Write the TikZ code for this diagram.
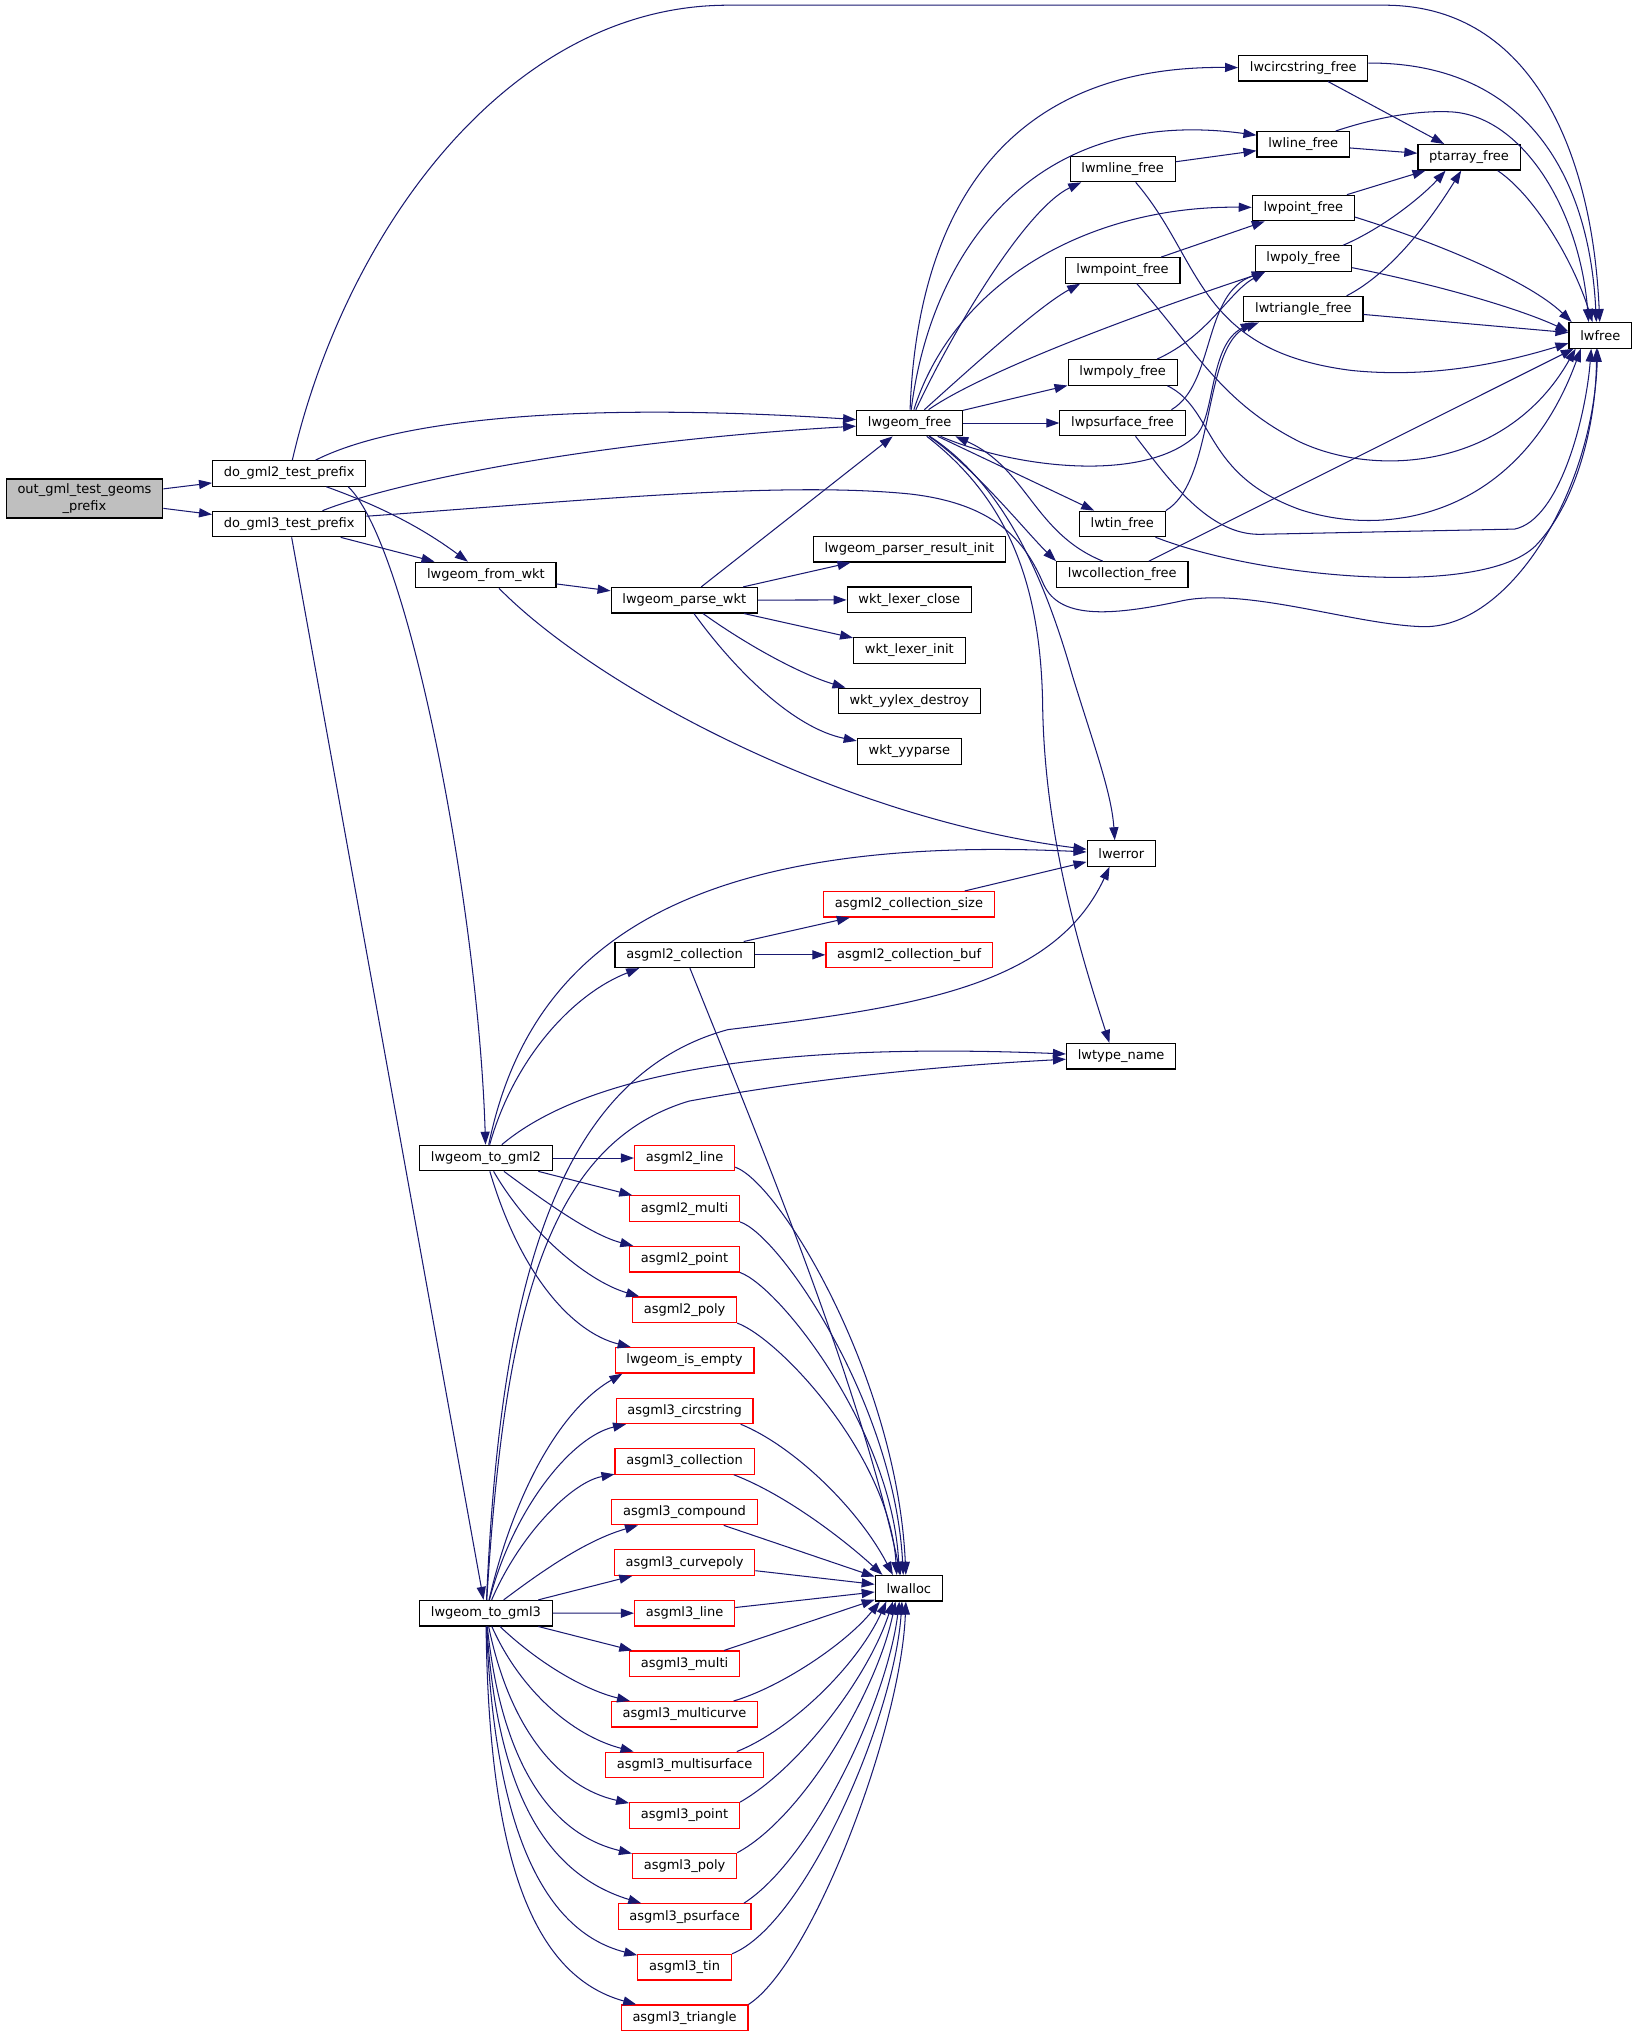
\documentclass[tikz,border=0pt]{standalone}
\usepackage{fontspec}
\setmainfont{DejaVu Sans}
\usetikzlibrary{arrows.meta,positioning}
\definecolor{edgeblue}{HTML}{191970}
\definecolor{nodegray}{HTML}{BFBFBF}

\begin{document}
\begin{tikzpicture}[x=1pt,y=-1pt,>={Triangle[length=10pt,width=7pt]},node distance=38.9pt,on grid,
  fn/.style={draw=black,line width=0.9pt,minimum height=19.6pt,inner xsep=8.7pt,inner ysep=0pt,font=\fontsize{10}{13}\selectfont},
  fnred/.style={fn,draw=red}]
\useasboundingbox (0,0) rectangle (1256.2,1567.7);

% left part
\node[fn,fill=nodegray,align=center,inner ysep=3.5pt] (out_gml) at (65,383.5) {out\_gml\_test\_geoms\\\_prefix};
\node[fn] (do_gml2) at (222.5,364.2) {do\_gml2\_test\_prefix};
\node[fn] (do_gml3) [below=of do_gml2] {do\_gml3\_test\_prefix};
\node[fn] (from_wkt) at (373.8,442.3) {lwgeom\_from\_wkt};
\node[fn] (parse_wkt) at (526.4,461.7) {lwgeom\_parse\_wkt};
\node[fn] (to_gml2) at (373.8,890.8) {lwgeom\_to\_gml2};
\node[fn] (to_gml3) at (373.8,1240.9) {lwgeom\_to\_gml3};

% free / parse part
\node[fn] (gfree) at (699.7,325.4) {lwgeom\_free};
\node[fn] (parser_init) at (699.5,422.5) {lwgeom\_parser\_result\_init};
\node[fn] (lexer_close) [below=of parser_init] {wkt\_lexer\_close};
\node[fn] (lexer_init) [below=of lexer_close] {wkt\_lexer\_init};
\node[fn] (yylex_destroy) [below=of lexer_init] {wkt\_yylex\_destroy};
\node[fn] (yyparse) [below=of yylex_destroy] {wkt\_yyparse};
\node[fn] (lwmline) at (863.6,130) {lwmline\_free};
\node[fn] (lwmpoint) at (863.5,208) {lwmpoint\_free};
\node[fn] (lwmpoly) at (863.6,286.5) {lwmpoly\_free};
\node[fn] (lwpsurface) [right=163.8pt of gfree] {lwpsurface\_free};
\node[fn] (lwtin) at (863.3,403) {lwtin\_free};
\node[fn] (lwcollection) [below=of lwtin] {lwcollection\_free};
\node[fn] (lwcircstring) at (1002.5,52.5) {lwcircstring\_free};
\node[fn] (lwline) at (1002.5,111) {lwline\_free};
\node[fn] (lwpoint) at (1002.6,160) {lwpoint\_free};
\node[fn] (lwpoly) [below=of lwpoint] {lwpoly\_free};
\node[fn] (lwtriangle) [below=of lwpoly] {lwtriangle\_free};
\node[fn] (ptarray) at (1130,121) {ptarray\_free};
\node[fn] (lwfree) at (1231,258) {lwfree};

% gml part
\node[fn] (lwerror) at (862.5,656.6) {lwerror};
\node[fnred] (g2csize) at (699.2,695.6) {asgml2\_collection\_size};
\node[fn] (g2coll) at (526.6,734.5) {asgml2\_collection};
\node[fnred] (g2cbuf) [right=172.8pt of g2coll] {asgml2\_collection\_buf};
\node[fn] (lwtype_name) at (862.4,812.5) {lwtype\_name};
\node[fnred] (asgml2_line) [right=152.8pt of to_gml2] {asgml2\_line};
\node[fnred] (asgml2_multi) [below=of asgml2_line] {asgml2\_multi};
\node[fnred] (asgml2_point) [below=of asgml2_multi] {asgml2\_point};
\node[fnred] (asgml2_poly) [below=of asgml2_point] {asgml2\_poly};
\node[fnred] (is_empty) [below=of asgml2_poly] {lwgeom\_is\_empty};
\node[fnred] (asgml3_circstring) [below=of is_empty] {asgml3\_circstring};
\node[fnred] (asgml3_collection) [below=of asgml3_circstring] {asgml3\_collection};
\node[fnred] (asgml3_compound) [below=of asgml3_collection] {asgml3\_compound};
\node[fnred] (asgml3_curvepoly) [below=of asgml3_compound] {asgml3\_curvepoly};
\node[fnred] (asgml3_line) [below=of asgml3_curvepoly] {asgml3\_line};
\node[fnred] (asgml3_multi) [below=of asgml3_line] {asgml3\_multi};
\node[fnred] (asgml3_multicurve) [below=of asgml3_multi] {asgml3\_multicurve};
\node[fnred] (asgml3_multisurface) [below=of asgml3_multicurve] {asgml3\_multisurface};
\node[fnred] (asgml3_point) [below=of asgml3_multisurface] {asgml3\_point};
\node[fnred] (asgml3_poly) [below=of asgml3_point] {asgml3\_poly};
\node[fnred] (asgml3_psurface) [below=of asgml3_poly] {asgml3\_psurface};
\node[fnred] (asgml3_tin) [below=of asgml3_psurface] {asgml3\_tin};
\node[fnred] (asgml3_triangle) [below=of asgml3_tin] {asgml3\_triangle};
\node[fn] (lwalloc) at (699.1,1221.7) {lwalloc};

\tikzset{calls/.style={->,draw=edgeblue,line width=0.8pt}}
% test helpers
\path (out_gml) edge [calls] (do_gml2)
      (out_gml) edge [calls] (do_gml3);
\draw [calls] (do_gml2) .. controls (265,180) and (390,4) .. (560,4) -- (1065,4) .. controls (1180,4) and (1225,120) .. (lwfree);
\draw [calls] (do_gml2) .. controls (300,325) and (430,308) .. (gfree);
\draw [calls] (do_gml2) .. controls (300,392) and (330,410) .. (from_wkt);
\draw [calls] ([xshift=-14pt]do_gml2.south east) .. controls (315,420) and (368,700) .. (to_gml2);
\draw [calls] (do_gml3) .. controls (300,372) and (450,340) .. (gfree);
\path (do_gml3) edge [calls] (from_wkt)
      (do_gml3) edge [calls] (to_gml3);
\draw [calls] ([yshift=6pt]do_gml3.east) .. controls (450,385) and (600,370) .. (700,380) .. controls (770,388) and (790,420) .. (803,450) .. controls (815,475) and (850,475) .. (910,462) .. controls (960,452) and (1040,480) .. (1093,482) .. controls (1160,485) and (1225,380) .. ([xshift=-2pt]lwfree.south);

% wkt parsing
\path (from_wkt) edge [calls] (parse_wkt);
\draw [calls] (from_wkt) .. controls (460,530) and (650,630) .. (lwerror);
\path (parse_wkt) edge [calls] (gfree)
      (parse_wkt) edge [calls] (parser_init)
      (parse_wkt) edge [calls] (lexer_close)
      (parse_wkt) edge [calls] (lexer_init);
\draw [calls] (parse_wkt) .. controls (580,500) and (620,520) .. ([xshift=6pt]yylex_destroy.north west);
\draw [calls] (parse_wkt) .. controls (565,515) and (610,560) .. (yyparse);

% lwgeom_free
\draw [calls] (gfree) .. controls (705,180) and (760,50) .. (lwcircstring);
\draw [calls] (gfree) .. controls (715,200) and (790,80) .. ([yshift=7pt]lwline.west);
\draw [calls] (gfree) .. controls (735,250) and (790,160) .. ([xshift=9pt]lwmline.south west);
\draw [calls] (gfree) .. controls (735,215) and (840,158) .. (lwpoint);
\draw [calls] (gfree) .. controls (750,280) and (800,235) .. ([xshift=12pt]lwmpoint.south west);
\draw [calls] (gfree) .. controls (750,290) and (850,250) .. ([xshift=8pt]lwpoly.south west);
\draw [calls] (gfree) .. controls (780,360) and (880,372) .. (920,335) .. controls (935,320) and (930,265) .. ([xshift=8pt]lwtriangle.south west);
\path (gfree) edge [calls] (lwmpoly)
      (gfree) edge [calls] (lwpsurface)
      (gfree) edge [calls] (lwtin);
\draw [calls] (gfree) .. controls (750,360) and (790,410) .. (lwcollection.north west);
\draw [calls] (gfree) .. controls (775,375) and (805,450) .. (825,520) .. controls (842,575) and (855,610) .. ([xshift=-5pt]lwerror.north);
\draw [calls] (gfree) .. controls (770,380) and (800,440) .. (802,540) .. controls (803,640) and (830,730) .. ([xshift=-9pt]lwtype_name.north);

% multi geometries
\path (lwmline) edge [calls] (lwline)
      (lwmpoint) edge [calls] (lwpoint);
\draw [calls] ([xshift=10pt]lwmline.south) .. controls (925,200) and (920,270) .. (1040,285) .. controls (1110,292) and (1170,275) .. ([yshift=-6pt]lwfree.west);
\draw [calls] ([xshift=11pt]lwmpoint.south) .. controls (920,270) and (940,310) .. (1000,340) .. controls (1060,368) and (1160,360) .. ([xshift=-19pt]lwfree.south);
\draw [calls] ([xshift=-16pt]lwmpoly.north east) .. controls (930,258) and (945,225) .. ([xshift=8pt]lwpoly.south west);
\draw [calls] ([xshift=-8pt]lwmpoly.south east) .. controls (935,315) and (925,365) .. (1000,392) .. controls (1070,415) and (1170,395) .. ([xshift=-15pt]lwfree.south);
\draw [calls] ([xshift=-11pt]lwpsurface.north east) .. controls (935,295) and (925,225) .. ([xshift=8pt]lwpoly.south west);
\draw [calls] ([xshift=10pt]lwpsurface.south) .. controls (900,370) and (930,412) .. (970,411) -- (1165,407) .. controls (1200,400) and (1220,320) .. ([xshift=-7pt]lwfree.south);
\draw [calls] (lwtin.north east) .. controls (935,370) and (925,265) .. ([xshift=12pt]lwtriangle.south west);
\draw [calls] ([xshift=-8pt]lwtin.south east) .. controls (970,445) and (1140,460) .. (1181,420) .. controls (1215,385) and (1228,320) .. ([xshift=-3pt]lwfree.south);
\draw [calls] ([xshift=-15pt]lwcollection.north) .. controls (795,410) and (790,360) .. ([xshift=-6pt]gfree.south east);
\path (lwcollection) edge [calls] (lwfree);

% simple geometries
\path (lwcircstring) edge [calls] (ptarray)
      (lwline) edge [calls] (ptarray)
      (lwpoint) edge [calls] (ptarray)
      (lwtriangle) edge [calls] (lwfree);
\draw [calls] ([yshift=4pt]lwcircstring.east) .. controls (1170,48) and (1222,130) .. ([xshift=-3pt]lwfree.north);
\draw [calls] ([xshift=-11pt]lwline.north east) .. controls (1060,90) and (1090,85) .. (1115,86) .. controls (1170,88) and (1215,160) .. ([xshift=-9pt]lwfree.north);
\draw [calls] ([yshift=-7pt]lwpoint.east) .. controls (1100,185) and (1175,215) .. ([xshift=-22pt]lwfree.north);
\draw [calls] ([xshift=-7pt]lwpoly.north east) .. controls (1065,175) and (1095,150) .. ([xshift=-18pt]ptarray.south);
\draw [calls] ([yshift=-7pt]lwpoly.east) .. controls (1110,220) and (1170,238) .. ([yshift=3pt]lwfree.west);
\draw [calls] ([xshift=-13pt]lwtriangle.north east) .. controls (1070,210) and (1100,170) .. ([xshift=-6pt]ptarray.south);
\draw [calls] ([xshift=22pt]ptarray.south) .. controls (1180,150) and (1210,200) .. ([xshift=-6pt]lwfree.north);

% gml2
\draw [calls] (to_gml2) .. controls (395,815) and (440,765) .. ([xshift=19pt]g2coll.south west);
\draw [calls] (to_gml2) .. controls (405,740) and (510,640) .. (lwerror);
\draw [calls] (to_gml2) .. controls (440,835) and (560,800) .. (lwtype_name);
\path (to_gml2) edge [calls] (asgml2_line)
      (to_gml2) edge [calls] (asgml2_multi);
\draw [calls] (to_gml2) .. controls (420,925) and (455,950) .. (asgml2_point);
\draw [calls] (to_gml2) .. controls (405,945) and (450,985) .. (asgml2_poly);
\draw [calls] (to_gml2) .. controls (400,980) and (440,1025) .. (is_empty);
\path (g2coll) edge [calls] (g2csize)
      (g2coll) edge [calls] (g2cbuf)
      (g2csize) edge [calls] (lwerror);
\draw [calls] (g2coll) .. controls (585,880) and (660,1060) .. ([xshift=20pt]lwalloc.north west);
\draw [calls] ([yshift=-7pt]asgml2_line.east) .. controls (600,910) and (690,1060) .. ([xshift=24pt]lwalloc.north west);
\draw [calls] (asgml2_multi.south east) .. controls (600,950) and (688,1080) .. ([xshift=22pt]lwalloc.north west);
\draw [calls] (asgml2_point.south east) .. controls (600,990) and (686,1100) .. ([xshift=19pt]lwalloc.north west);
\draw [calls] (asgml2_poly.south east) .. controls (600,1030) and (684,1120) .. ([xshift=17pt]lwalloc.north west);

% gml3
\draw [calls] (to_gml3) .. controls (395,1150) and (430,1085) .. ([xshift=6pt]is_empty.south west);
\draw [calls] (to_gml3) .. controls (384,1010) and (420,830) .. (560,792) .. controls (700,775) and (810,760) .. ([xshift=-9pt]lwerror.south);
\draw [calls] (to_gml3) .. controls (388,1010) and (420,880) .. (530,847) .. controls (650,825) and (760,818) .. (lwtype_name);
\draw [calls] (to_gml3) .. controls (395,1160) and (440,1105) .. (asgml3_circstring);
\draw [calls] (to_gml3) .. controls (400,1180) and (440,1140) .. (asgml3_collection);
\draw [calls] (to_gml3) .. controls (415,1210) and (450,1185) .. (asgml3_compound);
\path (to_gml3) edge [calls] (asgml3_curvepoly)
      (to_gml3) edge [calls] (asgml3_line)
      (to_gml3) edge [calls] (asgml3_multi);
\draw [calls] (to_gml3) .. controls (415,1280) and (450,1300) .. (asgml3_multicurve);
\draw [calls] (to_gml3) .. controls (400,1300) and (440,1335) .. (asgml3_multisurface);
\draw [calls] (to_gml3) .. controls (392,1330) and (430,1375) .. (asgml3_point);
\draw [calls] (to_gml3) .. controls (385,1350) and (420,1410) .. (asgml3_poly);
\draw [calls] (to_gml3) .. controls (382,1370) and (415,1440) .. (asgml3_psurface);
\draw [calls] (to_gml3) .. controls (380,1400) and (415,1485) .. (asgml3_tin);
\draw [calls] (to_gml3) .. controls (376,1430) and (410,1520) .. (asgml3_triangle);
\draw [calls] ([xshift=-10pt]asgml3_circstring.south east) .. controls (610,1112) and (660,1160) .. ([xshift=14pt]lwalloc.north west);
\draw [calls] ([xshift=-16pt]asgml3_collection.south east) .. controls (605,1150) and (650,1185) .. ([xshift=6pt]lwalloc.north west);
\path (asgml3_compound) edge [calls] (lwalloc)
      (asgml3_curvepoly) edge [calls] (lwalloc)
      (asgml3_line) edge [calls] (lwalloc)
      (asgml3_multi) edge [calls] (lwalloc);
\draw [calls] ([xshift=-19pt]asgml3_multicurve.north east) .. controls (600,1298) and (650,1265) .. ([xshift=4pt]lwalloc.south west);
\draw [calls] ([xshift=-21pt]asgml3_multisurface.north east) .. controls (610,1330) and (660,1280) .. ([xshift=9pt]lwalloc.south west);
\draw [calls] (asgml3_point.north east) .. controls (615,1360) and (668,1290) .. ([xshift=14pt]lwalloc.south west);
\draw [calls] (asgml3_poly.north east) .. controls (618,1398) and (675,1300) .. ([xshift=16pt]lwalloc.south west);
\draw [calls] ([xshift=-6pt]asgml3_psurface.north east) .. controls (625,1430) and (682,1310) .. ([xshift=19pt]lwalloc.south west);
\draw [calls] (asgml3_tin.north east) .. controls (620,1480) and (688,1320) .. ([xshift=21pt]lwalloc.south west);
\draw [calls] (asgml3_triangle.north east) .. controls (625,1510) and (693,1330) .. ([xshift=24pt]lwalloc.south west);
\end{tikzpicture}
\end{document}
